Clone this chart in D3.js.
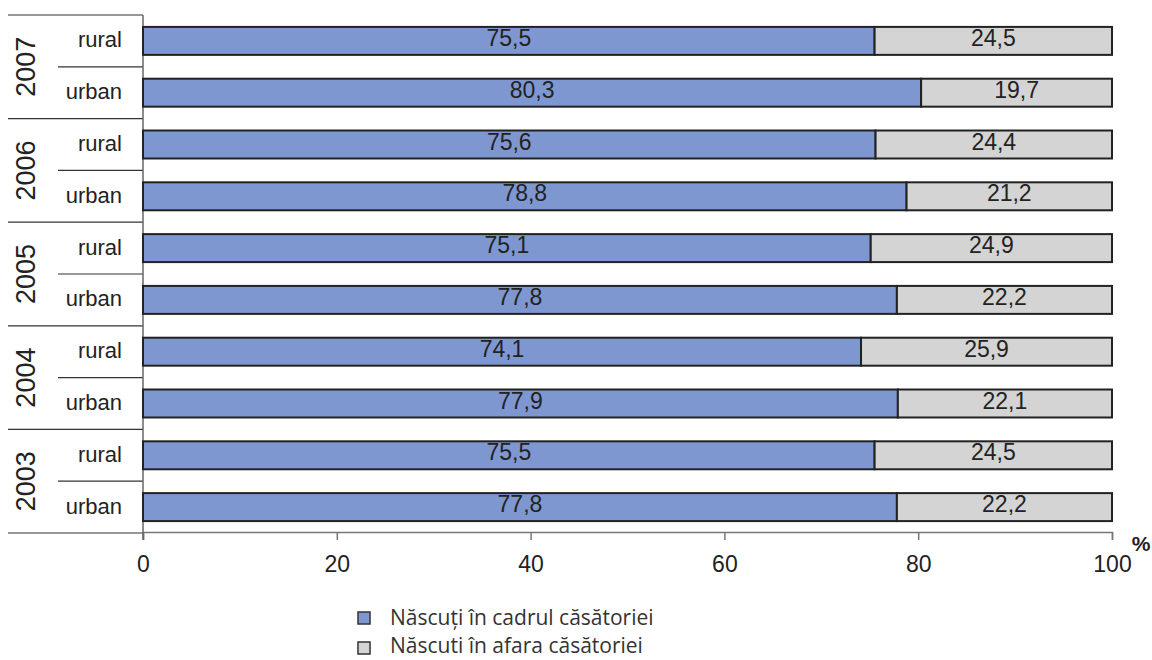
<!DOCTYPE html>
<html><head><meta charset="utf-8">
<script src="https://cdn.jsdelivr.net/npm/d3@7"></script>
<style>body{margin:0;background:#fff}</style>
</head><body>
<svg id="c" width="1152" height="660"></svg>
<script>
const years = ["2007","2006","2005","2004","2003"];
const areas = ["rural","urban"];
const inMarriage = [75.5,80.3,75.6,78.8,75.1,77.8,74.1,77.9,75.5,77.8];
const outMarriage = [24.5,19.7,24.4,21.2,24.9,22.2,25.9,22.1,24.5,22.2];
const xTicks = [0,20,40,60,80,100];
const seriesNames = ["Născuți în cadrul căsătoriei","Născuti în afara căsătoriei"];
const colors = ["#7f97d0","#d4d4d4"];

const rows = [];
years.forEach((y,i)=>areas.forEach((a,j)=>{const k=i*2+j;rows.push({id:y+"-"+a,year:y,area:a,v1:inMarriage[k],v2:outMarriage[k]});}));

const svg = d3.select("#c");
const x = d3.scaleLinear().domain([0,100]).range([143,1112]);
const yS = d3.scaleBand().domain(rows.map(r=>r.id)).range([15,533]).paddingInner(0.46).paddingOuter(0.23);
const font = "'Liberation Sans', Arial, sans-serif";

const g = svg.append("g");
years.forEach((yr,i)=>{
  const top = 15 + i*(518/5);
  g.append("line").attr("x1",8).attr("x2",143).attr("y1",top).attr("y2",top).attr("stroke","#333").attr("stroke-width",1.2);
  const mid = top + 518/10;
  g.append("line").attr("x1",58).attr("x2",143).attr("y1",mid).attr("y2",mid).attr("stroke","#333").attr("stroke-width",1.2);
  svg.append("text").attr("transform",`translate(26,${top+518/10}) rotate(-90)`).attr("text-anchor","middle")
    .attr("dominant-baseline","central").attr("font-family",font).attr("font-size",27).attr("fill","#222").text(yr);
});
g.append("line").attr("x1",8).attr("x2",143).attr("y1",533).attr("y2",533).attr("stroke","#333").attr("stroke-width",1.2);

const xAxis = d3.axisBottom(x).tickValues(xTicks).tickSize(8).tickFormat(d3.format("d"));
const ax = svg.append("g").attr("transform","translate(0,532)").call(xAxis);
ax.select(".domain").attr("stroke","#777").attr("stroke-width",1.5);
ax.selectAll(".tick line").attr("stroke","#777").attr("stroke-width",1.5);
ax.selectAll(".tick text").attr("font-family",font).attr("font-size",23).attr("fill","#222").attr("y",18).attr("dy","0.95em");
svg.append("line").attr("x1",143).attr("x2",143).attr("y1",15).attr("y2",540).attr("stroke","#666").attr("stroke-width",1.5);
svg.append("text").attr("x",1141).attr("y",551).attr("text-anchor","middle").attr("font-family",font).attr("font-weight","bold").attr("font-size",21).attr("fill","#222").text("%");

svg.selectAll(".rl").data(rows).join("text").attr("x",122).attr("y",r=>yS(r.id)+yS.bandwidth()/2-1)
  .attr("text-anchor","end").attr("dominant-baseline","central").attr("font-family",font).attr("font-size",22).attr("fill","#222").text(r=>r.area);

const bars = svg.append("g");
bars.selectAll(".b1").data(rows).join("rect").attr("x",x(0)).attr("y",r=>yS(r.id)).attr("width",r=>x(r.v1)-x(0)).attr("height",yS.bandwidth())
  .attr("fill",colors[0]).attr("stroke","#222").attr("stroke-width",2);
bars.selectAll(".b2").data(rows).join("rect").attr("x",r=>x(r.v1)).attr("y",r=>yS(r.id)).attr("width",r=>x(r.v1+r.v2)-x(r.v1)).attr("height",yS.bandwidth())
  .attr("fill",colors[1]).attr("stroke","#222").attr("stroke-width",2);
const fmt = v=>v.toFixed(1).replace(".",",");
bars.selectAll(".t1").data(rows).join("text").attr("x",r=>(x(0)+x(r.v1))/2).attr("y",r=>yS(r.id)+yS.bandwidth()/2-3)
  .attr("text-anchor","middle").attr("dominant-baseline","central").attr("font-family",font).attr("font-size",23).attr("fill","#222").text(r=>fmt(r.v1));
bars.selectAll(".t2").data(rows).join("text").attr("x",r=>(x(r.v1)+x(r.v1+r.v2))/2).attr("y",r=>yS(r.id)+yS.bandwidth()/2-3)
  .attr("text-anchor","middle").attr("dominant-baseline","central").attr("font-family",font).attr("font-size",23).attr("fill","#222").text(r=>fmt(r.v2));

const lg = svg.append("g");
seriesNames.forEach((n,i)=>{
  const yy = 617 + i*28;
  lg.append("rect").attr("x",358).attr("y",yy-5+2*i).attr("width",12).attr("height",12).attr("fill",colors[i]).attr("stroke","#333").attr("stroke-width",1.5);
  lg.append("text").attr("x",390).attr("y",yy).attr("dominant-baseline","central").attr("font-family","'Open Sans','Noto Sans',sans-serif").attr("font-size",21).attr("fill","#333").text(n);
});
</script>
</body></html>
